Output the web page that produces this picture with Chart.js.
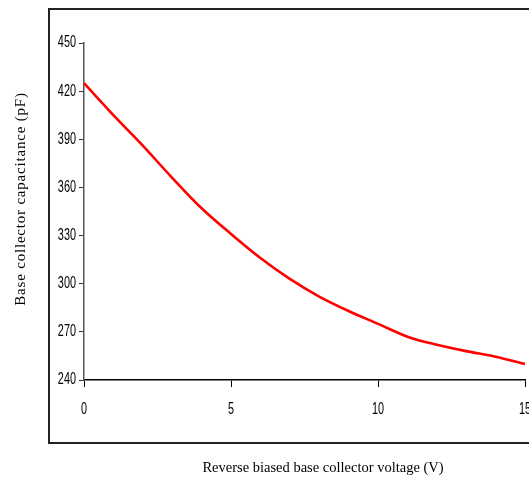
<!DOCTYPE html>
<html>
<head>
<meta charset="utf-8">
<script src="https://cdn.jsdelivr.net/npm/chart.js@4/dist/chart.umd.min.js"></script>
<style>
  html, body { margin: 0; padding: 0; background: #fff; overflow: hidden; }
  #wrap { position: relative; width: 529px; height: 479px; }
</style>
</head>
<body>
<div id="wrap"><canvas id="c" width="529" height="479"></canvas></div>
<script>
// Reverse bias voltage (V) and measured base-collector capacitance (pF)
const voltage = [0, 1, 2, 3, 4, 5, 6, 7, 8, 9, 10, 11, 12, 13, 14, 15];
const capacitance = [425, 405, 386, 366, 347, 331, 316, 303, 292, 283, 275, 267, 262, 258, 254.5, 250];

const yTicks = [240, 270, 300, 330, 360, 390, 420, 450];
const xTicks = [0, 5, 10, 15];

const xTitle = 'Reverse biased base collector voltage (V)';
const yTitle = 'Base collector capacitance (pF)';

const tickFont = { family: "'Liberation Sans', Arial, sans-serif", size: 16 };
const NARROW = 0.68; // horizontal squeeze for the condensed tick numerals

// Linear scale whose tick labels are drawn horizontally condensed
class NarrowLinearScale extends Chart.LinearScale {
  drawLabels(area) {
    const ctx = this.ctx;
    const orig = ctx.fillText;
    ctx.fillText = function (t, x, y, mw) {
      this.save();
      this.translate(x, y);
      this.scale(NARROW, 1);
      orig.call(this, t, 0, 0);
      this.restore();
    };
    try { super.drawLabels(area); } finally { ctx.fillText = orig; }
  }
}
NarrowLinearScale.id = 'narrowLinear';
NarrowLinearScale.defaults = Chart.LinearScale.defaults;
Chart.register(NarrowLinearScale);

// Outer frame and axis titles
const framePlugin = {
  id: 'frameAndTitles',
  afterDraw(chart) {
    const ctx = chart.ctx;
    ctx.save();
    ctx.strokeStyle = '#222';
    ctx.lineWidth = 2;
    ctx.strokeRect(49, 9, 520, 434);

    ctx.fillStyle = '#000';
    ctx.textAlign = 'center';
    ctx.textBaseline = 'middle';
    ctx.font = "14.5px 'Liberation Serif', 'Times New Roman', serif";
    ctx.fillText(xTitle, 323, 468);

    ctx.translate(21, 199);
    ctx.rotate(-Math.PI / 2);
    ctx.font = "15px 'Liberation Serif', 'Times New Roman', serif";
    if ('letterSpacing' in ctx) ctx.letterSpacing = '0.8px';
    ctx.fillText(yTitle, 0, 0);
    ctx.restore();
  }
};

new Chart(document.getElementById('c'), {
  type: 'line',
  data: {
    datasets: [{
      data: voltage.map((v, i) => ({ x: v, y: capacitance[i] })),
      borderColor: '#ff0000',
      borderWidth: 2.6,
      pointRadius: 0,
      cubicInterpolationMode: 'monotone',
      fill: false
    }]
  },
  options: {
    responsive: false,
    animation: false,
    layout: { padding: { left: 0, right: 4, top: 43, bottom: 0 } },
    plugins: { legend: { display: false }, tooltip: { enabled: false } },
    scales: {
      x: {
        type: 'narrowLinear',
        min: 0,
        max: 15,
        afterBuildTicks: s => { s.ticks = xTicks.map(v => ({ value: v })); },
        ticks: { color: '#000', font: tickFont, padding: 13, maxRotation: 0, autoSkip: false },
        grid: { display: true, drawOnChartArea: false, drawTicks: true, tickLength: 7, color: '#000', lineWidth: 1 },
        border: { display: true, color: '#000', width: 1.5 },
        afterFit: s => { s.height = 99; s.paddingLeft = 0; s.paddingRight = 0; }
      },
      y: {
        type: 'narrowLinear',
        min: 240,
        max: 450,
        afterBuildTicks: s => { s.ticks = yTicks.map(v => ({ value: v })); },
        ticks: { color: '#000', font: tickFont, padding: 3, autoSkip: false },
        grid: { display: true, drawOnChartArea: false, drawTicks: true, tickLength: 5, color: '#333', lineWidth: 1 },
        border: { display: true, color: '#555', width: 1.5 },
        afterFit: s => { s.width = 84; s.paddingTop = 0; s.paddingBottom = 0; }
      }
    }
  },
  plugins: [framePlugin]
});
</script>
</body>
</html>
